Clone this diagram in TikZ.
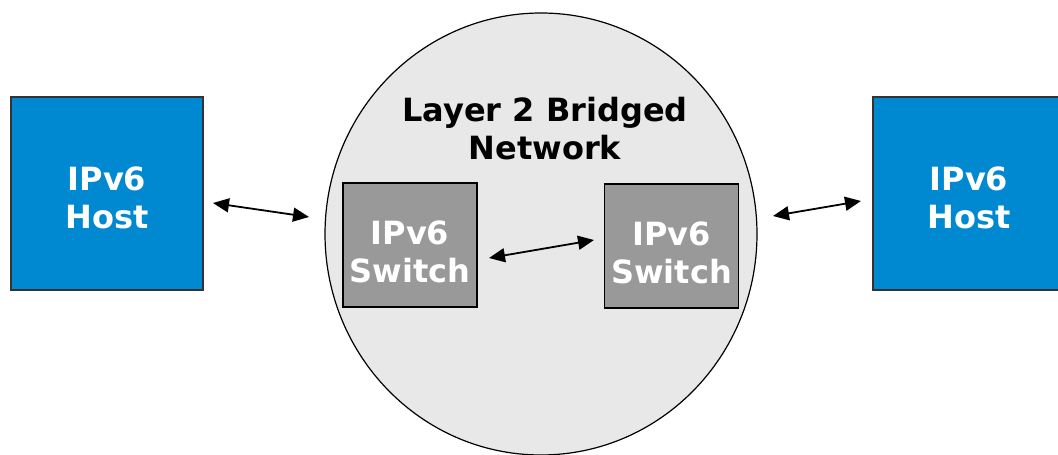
\documentclass[tikz,border=0pt]{standalone}
\usepackage{fontspec}
\setmainfont{DejaVu Sans}
\usetikzlibrary{arrows.meta}
\definecolor{hostblue}{HTML}{0088D1}
\definecolor{switchgray}{HTML}{999999}
\definecolor{cloudgray}{HTML}{E8E8E8}
\tikzset{
  boxtext/.style={inner sep=0pt, align=center, text=white,
    font=\fontsize{32}{38}\selectfont\bfseries, text depth=0pt},
  hostbox/.style={boxtext, draw=black!80, line width=1.2pt, fill=hostblue,
    minimum width=192pt, minimum height=193pt, text height=70pt},
  switchbox/.style={boxtext, draw=black, line width=1.2pt, fill=switchgray,
    minimum width=134pt, minimum height=124pt, text height=74pt},
  link/.style={line width=1.8pt,
    {Triangle[length=16pt,width=14pt]}-{Triangle[length=16pt,width=14pt]}}
}
\begin{document}
\begin{tikzpicture}[x=1pt,y=-1pt]
  \useasboundingbox (0,0) rectangle (1058,455);
  \begin{scope}
    \clip (0,0) rectangle (1058,455);
    % bridged network cloud
    \draw[fill=cloudgray, line width=1.2pt] (541,234) ellipse [x radius=216, y radius=221];
    \node[align=center, font=\fontsize{32}{38}\selectfont\bfseries] (title) at (545,129)
      {Layer 2 Bridged\\Network};
    % hosts and switches
    \node[hostbox] (hostL) at (107,193.5) {IPv6\\Host};
    \node[hostbox] (hostR) at (969,193.5) {IPv6\\Host};
    \node[switchbox] (swL) at (410,245) {IPv6\\Switch};
    \node[switchbox] (swR) at (671.5,246) {IPv6\\Switch};
    % link end points
    \coordinate (a1) at (213,203);
    \coordinate (a2) at (309,217);
    \coordinate (b1) at (489,258);
    \coordinate (b2) at (594,240);
    \coordinate (c1) at (773,216);
    \coordinate (c2) at (861,201);
    \draw[link] (a1) -- (a2);
    \draw[link] (b1) -- (b2);
    \draw[link] (c1) -- (c2);
  \end{scope}
\end{tikzpicture}
\end{document}
